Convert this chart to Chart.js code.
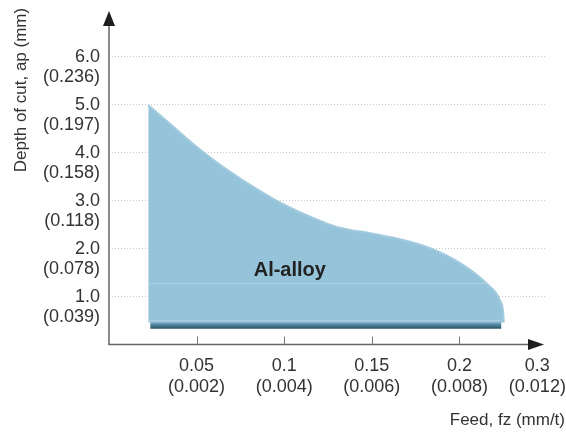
<!DOCTYPE html>
<html>
<head>
<meta charset="utf-8">
<script src="https://cdn.jsdelivr.net/npm/chart.js@4/dist/chart.umd.min.js"></script>
<style>
  html, body { margin: 0; padding: 0; background: #ffffff; }
  #wrap { width: 566px; height: 432px; position: relative; }
</style>
</head>
<body>
<div id="wrap"><canvas id="c" width="566" height="432"></canvas></div>
<script>
// ---- data ----
const feedTicks = [0.05, 0.1, 0.15, 0.2, 0.3];
const feedTicksInch = ['(0.002)', '(0.004)', '(0.006)', '(0.008)', '(0.012)'];
const depthTicks = [1, 2, 3, 4, 5, 6];
const depthTicksInch = ['(0.039)', '(0.078)', '(0.118)', '(0.158)', '(0.197)', '(0.236)'];

// upper boundary of the Al-alloy working area (feed mm/t, depth mm)
const boundaryFeed  = [0.0224, 0.0366, 0.05, 0.069, 0.0935, 0.1125, 0.130, 0.149, 0.164, 0.183, 0.202, 0.2155, 0.223, 0.2250, 0.2253];
const boundaryDepth = [4.98,   4.53,   4.11, 3.59,  3.03,   2.69,   2.44,  2.31,  2.20,  2.0,   1.65,  1.26,   0.92,  0.65,   0.45];
const areaBaseDepth = 0.45;           // lower edge of the light area
const baseBandFeed  = [0.0235, 0.2240];
const baseBandTop   = 0.47;
const baseBandBottom = 0.32;
const highlightFeed1 = [0.0230, 0.2150];
const highlightDepth1 = 1.26;
const highlightFeed2 = [0.0230, 0.2240];
const highlightDepth2 = 0.49;
const regionLabel = 'Al-alloy';
const regionLabelPos = [0.1032, 1.54];

const xTitle = 'Feed, fz (mm/t)';
const yTitle = 'Depth of cut, ap (mm)';

const FONT = "'Liberation Sans', Arial, Helvetica, sans-serif";
const xMaxVisible = 0.25;

const areaPoints = boundaryFeed.map((f, i) => ({ x: f, y: boundaryDepth[i] }));
const bandPoints = baseBandFeed.map(f => ({ x: f, y: baseBandTop }));
const hl1 = highlightFeed1.map(f => ({ x: f, y: highlightDepth1 }));
const hl2 = highlightFeed2.map(f => ({ x: f, y: highlightDepth2 }));

function bandGradient(context) {
  const chart = context.chart;
  if (!chart.chartArea) return '#46788e';
  const ys = chart.scales.y;
  const y0 = ys.getPixelForValue(areaBaseDepth);
  const y1 = ys.getPixelForValue(baseBandBottom);
  const g = chart.ctx.createLinearGradient(0, y0, 0, y1);
  g.addColorStop(0, '#7aaac0');
  g.addColorStop(0.45, '#4c8096');
  g.addColorStop(1, '#2a5465');
  return g;
}

const decorPlugin = {
  id: 'decor',
  afterDraw(chart) {
    const ctx = chart.ctx;
    const xs = chart.scales.x, ys = chart.scales.y;
    const ca = chart.chartArea;
    ctx.save();
    // axes
    ctx.strokeStyle = '#666666';
    ctx.fillStyle = '#1e1e1e';
    ctx.lineWidth = 1.5;
    const ax = ca.left, ay = ca.bottom + 0.5;
    ctx.beginPath();
    ctx.moveTo(ax, ay + 0.5);
    ctx.lineTo(ax, ca.top + 8);
    ctx.stroke();
    ctx.beginPath();
    ctx.moveTo(ax - 0.5, ay);
    ctx.lineTo(ca.right - 12, ay);
    ctx.stroke();
    // arrow heads
    ctx.beginPath();
    ctx.moveTo(ax, ca.top - 3);
    ctx.lineTo(ax - 6, ca.top + 12);
    ctx.lineTo(ax + 6, ca.top + 12);
    ctx.closePath();
    ctx.fill();
    ctx.beginPath();
    ctx.moveTo(ca.right - 3, ay);
    ctx.lineTo(ca.right - 19, ay - 5.5);
    ctx.lineTo(ca.right - 19, ay + 5.5);
    ctx.closePath();
    ctx.fill();
    // inner tick marks on x axis
    ctx.lineWidth = 1;
    ctx.strokeStyle = '#777777';
    feedTicks.forEach(v => {
      if (v > xMaxVisible) return;
      const px = Math.round(xs.getPixelForValue(v)) + 0.5;
      ctx.beginPath();
      ctx.moveTo(px, ay - 8);
      ctx.lineTo(px, ay);
      ctx.stroke();
    });
    // region label
    ctx.fillStyle = '#222222';
    ctx.font = 'bold 20px ' + FONT;
    ctx.textAlign = 'center';
    ctx.textBaseline = 'middle';
    ctx.fillText(regionLabel, xs.getPixelForValue(regionLabelPos[0]), ys.getPixelForValue(regionLabelPos[1]));
    // axis titles
    ctx.font = '17px ' + FONT;
    ctx.fillStyle = '#333333';
    ctx.textAlign = 'right';
    ctx.fillText(xTitle, 565, 420);
    ctx.translate(21, 90);
    ctx.rotate(-Math.PI / 2);
    ctx.textAlign = 'center';
    ctx.fillText(yTitle, 0, 0);
    ctx.restore();
  }
};

new Chart(document.getElementById('c'), {
  type: 'line',
  data: {
    datasets: [
      {
        label: 'highlight1',
        data: hl1,
        parsing: false,
        fill: false,
        borderColor: 'rgba(255,255,255,0.22)',
        borderWidth: 1,
        pointRadius: 0,
        order: 0
      },
      {
        label: 'highlight2',
        data: hl2,
        parsing: false,
        fill: false,
        borderColor: 'rgba(255,255,255,0.25)',
        borderWidth: 1,
        pointRadius: 0,
        order: 0
      },
      {
        label: 'area',
        data: areaPoints,
        parsing: false,
        fill: { value: areaBaseDepth },
        backgroundColor: '#95c3d9',
        borderColor: '#a3cbdf',
        borderWidth: 2,
        cubicInterpolationMode: 'monotone',
        pointRadius: 0,
        order: 1
      },
      {
        label: 'base',
        data: bandPoints,
        parsing: false,
        fill: { value: baseBandBottom },
        backgroundColor: bandGradient,
        borderColor: 'rgba(0,0,0,0)',
        borderWidth: 0,
        pointRadius: 0,
        order: 2
      }
    ]
  },
  options: {
    responsive: false,
    animation: false,
    events: [],
    layout: { padding: { left: 0, top: 14, right: 19, bottom: 0 } },
    plugins: { legend: { display: false }, tooltip: { enabled: false } },
    scales: {
      x: {
        type: 'linear',
        min: 0,
        max: xMaxVisible,
        afterBuildTicks(scale) {
          scale.ticks = feedTicks.map(v => ({ value: v > xMaxVisible ? xMaxVisible * 0.978 : v }));
        },
        afterFit(scale) {
          scale.height = 88;
          scale.paddingLeft = 0;
          scale.paddingRight = 0;
        },
        grid: { display: false, drawTicks: false },
        border: { display: false },
        ticks: {
          padding: 11,
          maxRotation: 0,
          autoSkip: false,
          color: '#333333',
          font: { family: FONT, size: 18, lineHeight: 1.2 },
          callback: (value, index) => [String(feedTicks[index]), feedTicksInch[index]]
        }
      },
      y: {
        type: 'linear',
        min: 0,
        max: 6.875,
        afterBuildTicks(scale) {
          scale.ticks = depthTicks.map(v => ({ value: v }));
        },
        afterFit(scale) {
          scale.width = 109;
          scale.paddingTop = 0;
          scale.paddingBottom = 0;
        },
        grid: { color: '#c9c9c9', lineWidth: 1, drawTicks: false },
        border: { display: false, dash: [1, 2] },
        ticks: {
          padding: 9,
          labelOffset: 11,
          autoSkip: false,
          color: '#333333',
          font: { family: FONT, size: 18, lineHeight: 1.15 },
          callback: (value, index) => [depthTicks[index].toFixed(1), depthTicksInch[index]]
        }
      }
    }
  },
  plugins: [decorPlugin]
});
</script>
</body>
</html>
